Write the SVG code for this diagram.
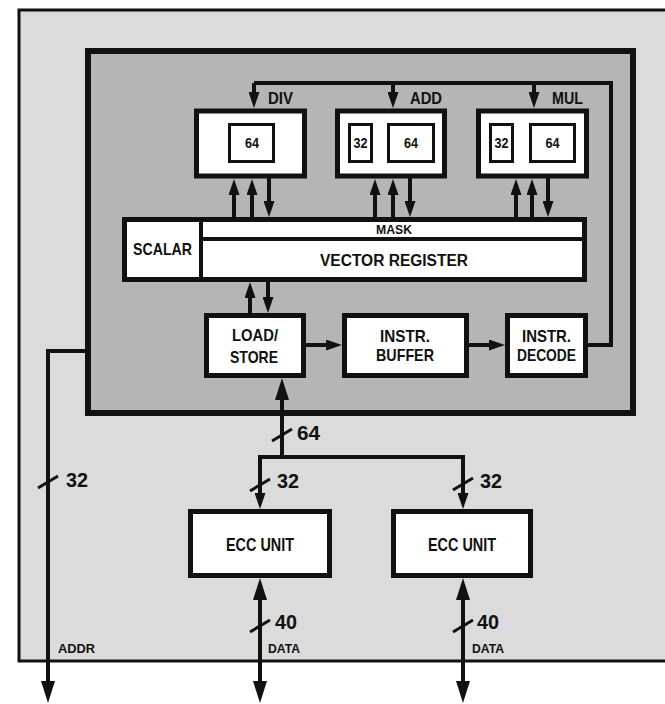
<svg xmlns="http://www.w3.org/2000/svg" width="665" height="704" viewBox="0 0 665 704">
<style>
.t{font-family:"Liberation Sans Narrow","Liberation Sans",Arial,sans-serif;font-weight:bold;fill:#111}
.box{fill:#fff;stroke:#111;stroke-width:5}
.ibox{fill:#fff;stroke:#111;stroke-width:3}
.ln{fill:none;stroke:#111;stroke-width:4}
.sl{fill:none;stroke:#111;stroke-width:3}
</style>
<defs>
<marker id="a" markerUnits="userSpaceOnUse" markerWidth="16" markerHeight="11" refX="6" refY="5.5" orient="auto-start-reverse"><path d="M0,0 L16,5.5 L0,11 z" fill="#111"/></marker>
<marker id="A" markerUnits="userSpaceOnUse" markerWidth="22" markerHeight="14" refX="10" refY="7" orient="auto-start-reverse"><path d="M0,0 L22,7 L0,14 z" fill="#111"/></marker>
</defs>
<rect width="665" height="704" fill="#fff"/>
<g id="outer"><rect x="19" y="10" width="660" height="651" fill="#dbdbdb" stroke="#111" stroke-width="3"/></g>
<g id="chip"><rect x="88" y="51" width="545" height="362" fill="#b5b5b5" stroke="#111" stroke-width="6"/></g>
<g id="connectors">
<polyline class="ln" points="254,83 611,83 611,345 588,345"/>
<line class="ln" x1="254" y1="83" x2="254" y2="98" marker-end="url(#a)"/>
<line class="ln" x1="393" y1="83" x2="393" y2="98" marker-end="url(#a)"/>
<line class="ln" x1="534" y1="83" x2="534" y2="98" marker-end="url(#a)"/>
<line class="ln" x1="234" y1="217" x2="234" y2="189" marker-end="url(#a)"/>
<line class="ln" x1="252" y1="217" x2="252" y2="189" marker-end="url(#a)"/>
<line class="ln" x1="269" y1="178" x2="269" y2="207" marker-end="url(#a)"/>
<line class="ln" x1="375" y1="217" x2="375" y2="189" marker-end="url(#a)"/>
<line class="ln" x1="393" y1="217" x2="393" y2="189" marker-end="url(#a)"/>
<line class="ln" x1="410" y1="178" x2="410" y2="207" marker-end="url(#a)"/>
<line class="ln" x1="516" y1="217" x2="516" y2="189" marker-end="url(#a)"/>
<line class="ln" x1="532" y1="217" x2="532" y2="189" marker-end="url(#a)"/>
<line class="ln" x1="548" y1="178" x2="548" y2="207" marker-end="url(#a)"/>
<line class="ln" x1="250" y1="313" x2="250" y2="292" marker-end="url(#a)"/>
<line class="ln" x1="268" y1="282" x2="268" y2="303" marker-end="url(#a)"/>
<line class="ln" x1="306" y1="345" x2="332" y2="345" marker-end="url(#a)"/>
<line class="ln" x1="469" y1="345" x2="495" y2="345" marker-end="url(#a)"/>
<polyline class="ln" points="88,351 48,351 48,691" marker-end="url(#A)"/>
<line class="ln" x1="282" y1="457" x2="282" y2="390" marker-end="url(#A)"/>
<polyline class="ln" points="260,499 260,457 463,457 463,499" marker-start="url(#a)" marker-end="url(#a)"/>
<line class="ln" x1="260" y1="590" x2="260" y2="691" marker-start="url(#A)" marker-end="url(#A)"/>
<line class="ln" x1="463" y1="590" x2="463" y2="691" marker-start="url(#A)" marker-end="url(#A)"/>
<line class="sl" x1="272" y1="441" x2="292" y2="429"/>
<line class="sl" x1="38" y1="488" x2="58" y2="476"/>
<line class="sl" x1="250" y1="491" x2="270" y2="479"/>
<line class="sl" x1="453" y1="490" x2="473" y2="478"/>
<line class="sl" x1="250" y1="632" x2="270" y2="620"/>
<line class="sl" x1="453" y1="632" x2="473" y2="620"/>
</g>
<g id="labels">
<text class="t" x="268" y="104" font-size="16" textLength="25" lengthAdjust="spacingAndGlyphs">DIV</text>
<text class="t" x="410" y="104" font-size="16" textLength="32" lengthAdjust="spacingAndGlyphs">ADD</text>
<text class="t" x="552" y="104" font-size="16" textLength="31" lengthAdjust="spacingAndGlyphs">MUL</text>
<text class="t" x="297" y="440" font-size="21" textLength="23" lengthAdjust="spacingAndGlyphs">64</text>
<text class="t" x="66" y="487" font-size="21" textLength="22" lengthAdjust="spacingAndGlyphs">32</text>
<text class="t" x="277" y="488" font-size="21" textLength="22" lengthAdjust="spacingAndGlyphs">32</text>
<text class="t" x="480" y="488" font-size="21" textLength="22" lengthAdjust="spacingAndGlyphs">32</text>
<text class="t" x="275" y="629" font-size="21" textLength="22" lengthAdjust="spacingAndGlyphs">40</text>
<text class="t" x="477" y="629" font-size="21" textLength="22" lengthAdjust="spacingAndGlyphs">40</text>
<text class="t" x="58" y="653" font-size="13" textLength="37" lengthAdjust="spacingAndGlyphs">ADDR</text>
<text class="t" x="268" y="653" font-size="13" textLength="32" lengthAdjust="spacingAndGlyphs">DATA</text>
<text class="t" x="472" y="653" font-size="13" textLength="32" lengthAdjust="spacingAndGlyphs">DATA</text>
</g>
<g id="div">
<rect class="box" x="196.5" y="111" width="108" height="65"/>
<rect class="ibox" x="229.5" y="124.5" width="44" height="37"/>
<text class="t" x="245" y="148" font-size="15" textLength="14" lengthAdjust="spacingAndGlyphs">64</text>
</g>
<g id="add">
<rect class="box" x="337.5" y="111" width="107" height="65"/>
<rect class="ibox" x="349.5" y="124.5" width="22" height="37"/>
<rect class="ibox" x="388.5" y="124.5" width="45" height="37"/>
<text class="t" x="353.5" y="148" font-size="15" textLength="14" lengthAdjust="spacingAndGlyphs">32</text>
<text class="t" x="404" y="148" font-size="15" textLength="14" lengthAdjust="spacingAndGlyphs">64</text>
</g>
<g id="mul">
<rect class="box" x="478.5" y="111" width="108" height="65"/>
<rect class="ibox" x="490.5" y="124.5" width="22" height="37"/>
<rect class="ibox" x="530.5" y="124.5" width="44" height="37"/>
<text class="t" x="494.5" y="148" font-size="15" textLength="14" lengthAdjust="spacingAndGlyphs">32</text>
<text class="t" x="545.5" y="148" font-size="15" textLength="14" lengthAdjust="spacingAndGlyphs">64</text>
</g>
<g id="registers">
<rect class="box" x="124.5" y="219.5" width="460" height="60"/>
<line class="ln" x1="201" y1="219.5" x2="201" y2="279.5" stroke-width="5"/>
<line class="ln" x1="201" y1="239" x2="584.5" y2="239"/>
<text class="t" x="133" y="255" font-size="17" textLength="59" lengthAdjust="spacingAndGlyphs">SCALAR</text>
<text class="t" x="376" y="234" font-size="13" textLength="36" lengthAdjust="spacingAndGlyphs">MASK</text>
<text class="t" x="320" y="266" font-size="16" textLength="148" lengthAdjust="spacingAndGlyphs">VECTOR REGISTER</text>
</g>
<g id="loadstore">
<rect class="box" x="206.5" y="315.5" width="97" height="60"/>
<text class="t" x="232" y="341" font-size="17" textLength="46" lengthAdjust="spacingAndGlyphs">LOAD/</text>
<text class="t" x="230" y="363" font-size="17" textLength="48" lengthAdjust="spacingAndGlyphs">STORE</text>
</g>
<g id="buffer">
<rect class="box" x="344.5" y="315.5" width="122" height="60"/>
<text class="t" x="380" y="342" font-size="17" textLength="50" lengthAdjust="spacingAndGlyphs">INSTR.</text>
<text class="t" x="376" y="361" font-size="17" textLength="58" lengthAdjust="spacingAndGlyphs">BUFFER</text>
</g>
<g id="decode">
<rect class="box" x="507.5" y="315.5" width="78" height="60"/>
<text class="t" x="522" y="342" font-size="17" textLength="49" lengthAdjust="spacingAndGlyphs">INSTR.</text>
<text class="t" x="517" y="361" font-size="17" textLength="59" lengthAdjust="spacingAndGlyphs">DECODE</text>
</g>
<g id="ecc1">
<rect class="box" x="190.5" y="511.5" width="139" height="64"/>
<text class="t" x="226" y="551" font-size="18" textLength="68" lengthAdjust="spacingAndGlyphs">ECC UNIT</text>
</g>
<g id="ecc2">
<rect class="box" x="393.5" y="511.5" width="137" height="64"/>
<text class="t" x="428" y="551" font-size="18" textLength="68" lengthAdjust="spacingAndGlyphs">ECC UNIT</text>
</g>
</svg>
